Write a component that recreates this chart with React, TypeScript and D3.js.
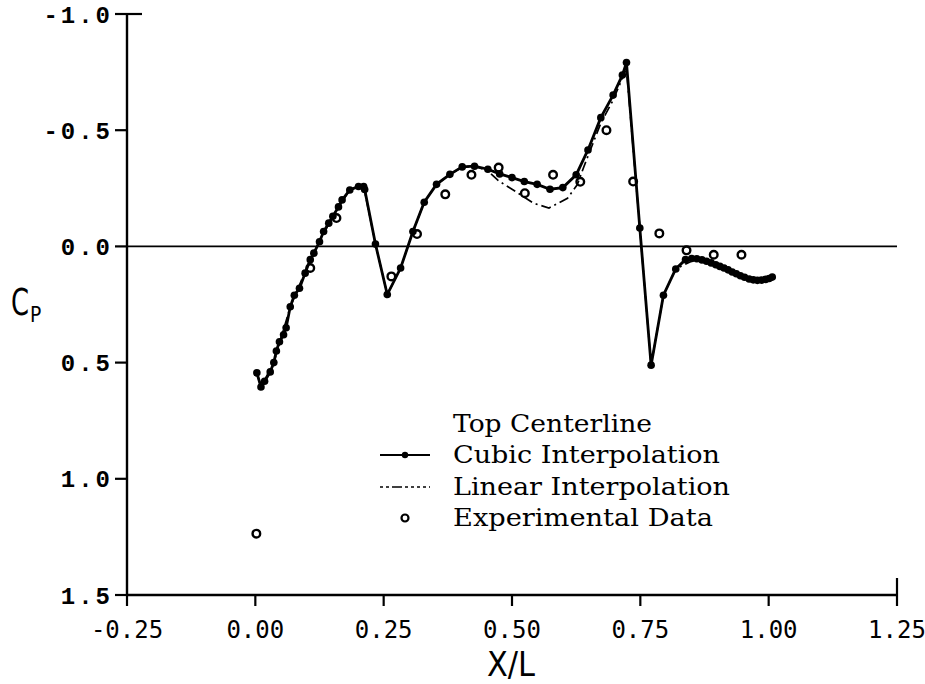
import React from "react";
import * as d3 from "d3";

// ---- Data ----
const cubicX = [0.003, 0.011, 0.018, 0.029, 0.036, 0.041, 0.047, 0.055, 0.060, 0.068, 0.076, 0.086, 0.097, 0.107, 0.114, 0.125, 0.133, 0.143, 0.151, 0.162, 0.169, 0.184, 0.201, 0.211, 0.213, 0.234, 0.257, 0.283, 0.307, 0.329, 0.353, 0.379, 0.403, 0.427, 0.453, 0.476, 0.500, 0.524, 0.549, 0.574, 0.599, 0.625, 0.648, 0.673, 0.697, 0.715, 0.723, 0.749, 0.771, 0.795, 0.819, 0.838, 0.850, 0.860, 0.870, 0.879, 0.888, 0.897, 0.905, 0.913, 0.921, 0.929, 0.937, 0.945, 0.953, 0.962, 0.970, 0.978, 0.986, 0.994, 1.001, 1.007];
const cubicCp = [0.544, 0.605, 0.58, 0.54, 0.50, 0.45, 0.41, 0.38, 0.35, 0.26, 0.21, 0.18, 0.115, 0.057, 0.029, -0.02, -0.064, -0.10, -0.13, -0.17, -0.20, -0.243, -0.258, -0.258, -0.245, -0.01, 0.207, 0.093, -0.064, -0.19, -0.267, -0.31, -0.342, -0.345, -0.332, -0.312, -0.296, -0.279, -0.267, -0.246, -0.253, -0.308, -0.415, -0.554, -0.651, -0.737, -0.791, -0.079, 0.511, 0.21, 0.097, 0.057, 0.052, 0.053, 0.058, 0.064, 0.071, 0.079, 0.086, 0.093, 0.101, 0.11, 0.118, 0.126, 0.133, 0.14, 0.144, 0.146, 0.145, 0.142, 0.138, 0.132];

const linearX = [0.003, 0.011, 0.036, 0.068, 0.107, 0.151, 0.184, 0.211, 0.234, 0.257, 0.283, 0.307, 0.329, 0.353, 0.379, 0.403, 0.427, 0.453, 0.474, 0.507, 0.542, 0.572, 0.608, 0.627, 0.640, 0.673, 0.697, 0.723, 0.749, 0.771, 0.795, 0.819, 0.860, 0.913, 0.962, 1.007];
const linearCp = [0.544, 0.605, 0.50, 0.26, 0.057, -0.13, -0.243, -0.258, -0.01, 0.207, 0.093, -0.064, -0.19, -0.267, -0.31, -0.342, -0.345, -0.325, -0.282, -0.236, -0.186, -0.165, -0.207, -0.265, -0.343, -0.53, -0.63, -0.765, -0.079, 0.511, 0.21, 0.097, 0.053, 0.093, 0.14, 0.132];

const expX = [0.002, 0.107, 0.158, 0.265, 0.315, 0.370, 0.421, 0.474, 0.525, 0.580, 0.633, 0.684, 0.736, 0.787, 0.840, 0.893, 0.947];
const expCp = [1.236, 0.093, -0.122, 0.129, -0.053, -0.224, -0.308, -0.339, -0.229, -0.308, -0.278, -0.50, -0.279, -0.056, 0.017, 0.036, 0.036];

const xTicks = [-0.25, 0.0, 0.25, 0.5, 0.75, 1.0, 1.25];
const yTicks = [-1.0, -0.5, 0.0, 0.5, 1.0, 1.5];
const legendItems = ["Cubic Interpolation", "Linear Interpolation", "Experimental Data"];
const legendTitle = "Top Centerline";

export default function App() {
  const W = 925, H = 684;
  const left = 127, right = 897, top = 14, bottom = 595;
  const x = d3.scaleLinear().domain([-0.25, 1.25]).range([left, right]);
  const y = d3.scaleLinear().domain([-1.0, 1.5]).range([top, bottom]);

  const cubic = cubicX.map((v, i) => [v, cubicCp[i]] as [number, number]);
  const linear = linearX.map((v, i) => [v, linearCp[i]] as [number, number]);
  const exp = expX.map((v, i) => [v, expCp[i]] as [number, number]);

  const line = d3.line<[number, number]>().x(d => x(d[0])).y(d => y(d[1]));

  const monoY = "'Liberation Mono', 'DejaVu Sans Mono', monospace";
  const monoX = "'DejaVu Sans Mono', monospace";
  const serif = "'DejaVu Serif', serif";

  const lx = 453;
  const rows = [463, 495, 526];
  const legendWidths = [267, 277, 260];

  return (
    <svg width={W} height={H} style={{ position: "absolute", left: 0, top: 0, background: "#fff" }}>
      <rect x={0} y={0} width={W} height={H} fill="#fff" />
      {/* axes */}
      <line x1={left} y1={top} x2={left} y2={bottom} stroke="#000" strokeWidth={2.4} />
      <line x1={left} y1={bottom} x2={right} y2={bottom} stroke="#000" strokeWidth={2.4} />
      {/* end inner ticks */}
      <line x1={left} y1={top} x2={left + 15} y2={top} stroke="#000" strokeWidth={2.2} />
      <line x1={right} y1={bottom} x2={right} y2={bottom - 17} stroke="#000" strokeWidth={2.2} />
      {/* zero line */}
      <line x1={left} y1={y(0)} x2={right} y2={y(0)} stroke="#000" strokeWidth={1.6} />
      {yTicks.map(t => (
        <g key={"y" + t}>
          <line x1={left - 12} y1={y(t)} x2={left} y2={y(t)} stroke="#000" strokeWidth={2.2} />
          <text x={113} y={y(t)} dy="0.36em" textAnchor="end" fontFamily={monoY} fontWeight="bold" fontSize={24} letterSpacing={3} fill="#000">
            {t.toFixed(1)}
          </text>
        </g>
      ))}
      {xTicks.map(t => (
        <g key={"x" + t}>
          <line x1={x(t)} y1={bottom} x2={x(t)} y2={bottom + 11} stroke="#000" strokeWidth={2.2} />
          <text x={x(t)} y={638} textAnchor="middle" fontFamily={monoX} fontSize={24} fill="#000">
            {t.toFixed(2)}
          </text>
        </g>
      ))}
      {/* axis titles */}
      <text x={511} y={676} textAnchor="middle" fontFamily="'DejaVu Sans', sans-serif" fontSize={34} textLength={48} lengthAdjust="spacingAndGlyphs" fill="#000">X/L</text>
      <text transform="translate(11,315) scale(0.68,1)" fontFamily="'DejaVu Sans', sans-serif" fontSize={38} fill="#000">C</text>
      <text transform="translate(30,322) scale(0.85,1)" fontFamily="'DejaVu Sans', sans-serif" fontSize={22} fill="#000">P</text>

      {/* linear interpolation (dash-dot) */}
      <path d={line(linear) || ""} fill="none" stroke="#000" strokeWidth={1.7} strokeDasharray="10,4,2,4" />
      {/* cubic interpolation */}
      <path d={line(cubic) || ""} fill="none" stroke="#000" strokeWidth={2.8} />
      {cubic.map((d, i) => (
        <circle key={"c" + i} cx={x(d[0])} cy={y(d[1])} r={3.8} fill="#000" />
      ))}
      {/* experimental data */}
      {exp.map((d, i) => (
        <circle key={"e" + i} cx={x(d[0])} cy={y(d[1])} r={3.8} fill="none" stroke="#000" strokeWidth={2.4} />
      ))}

      {/* legend */}
      <text x={lx} y={432} fontFamily={serif} fontSize={24} textLength={199} lengthAdjust="spacingAndGlyphs" fill="#000">{legendTitle}</text>
      <line x1={380} y1={rows[0] - 8} x2={430} y2={rows[0] - 8} stroke="#000" strokeWidth={2} />
      <circle cx={405} cy={rows[0] - 8} r={3.2} fill="#000" />
      <line x1={380} y1={rows[1] - 8} x2={430} y2={rows[1] - 8} stroke="#000" strokeWidth={1.5} strokeDasharray="3,3,3,3,10,3,3,3,3,3" />
      <circle cx={405} cy={rows[2] - 8} r={3.5} fill="none" stroke="#000" strokeWidth={2.2} />
      {legendItems.map((s, i) => (
        <text key={s} x={lx} y={rows[i]} fontFamily={serif} fontSize={24} textLength={legendWidths[i]} lengthAdjust="spacingAndGlyphs" fill="#000">{s}</text>
      ))}
    </svg>
  );
}
